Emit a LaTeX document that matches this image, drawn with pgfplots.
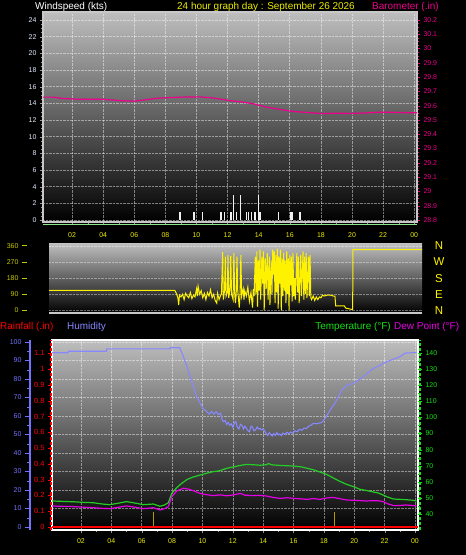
\documentclass[border=0pt]{standalone}
\usepackage{pgfplots}
\pgfplotsset{compat=1.18}
\usepackage{fontspec}
\setmainfont{Liberation Sans}
\definecolor{xyel}{RGB}{235,235,0}
\definecolor{dyel}{RGB}{200,200,0}
\definecolor{humb}{RGB}{115,115,255}
\definecolor{humline}{RGB}{135,135,255}
\definecolor{tgreen}{RGB}{20,225,20}
\definecolor{tline}{RGB}{35,205,35}
\definecolor{dmag}{RGB}{230,0,230}
\definecolor{rred}{RGB}{255,0,0}
\definecolor{wlab}{RGB}{225,235,255}
\definecolor{olivebar}{RGB}{175,155,0}
\definecolor{frm}{RGB}{200,200,200}
\definecolor{lgreen}{RGB}{140,230,140}
\definecolor{bgtop}{RGB}{190,190,190}
\pgfplotsset{
  every axis/.append style={
    scale only axis,
    tick label style={font=\fontsize{7}{8}\selectfont},
    /pgf/number format/assume math mode=true,
    tick align=outside,
  },
  frameax/.style={
    axis background/.style={shade, top color=bgtop, bottom color=black},
    grid=major,
    major grid style={white, opacity=0.45, densely dotted, line width=0.6bp},
    axis line style={frm, line width=1.2bp},
  },
}
\begin{document}
\begin{tikzpicture}
\fill[black] (0bp,0bp) rectangle (466bp,555bp);
\tikzset{hdr/.style={font=\fontsize{10}{12}\selectfont, inner sep=0pt}}
\node[hdr, text=white, anchor=west] at (35bp,548bp) {Windspeed (kts)};
\node[hdr, text=xyel] at (266bp,548bp) {24 hour graph day : September 26 2026};
\node[hdr, text=magenta, anchor=west] at (372bp,548bp) {Barometer (.in)};
\node[hdr, text=rred, anchor=west] at (0bp,228.5bp) {Rainfall (.in)};
\node[hdr, text=humline, anchor=west] at (67bp,228.5bp) {Humidity};
\node[hdr, text=tgreen, anchor=east] at (391bp,228.5bp) {Temperature (°F)};
\node[hdr, text=dmag, anchor=west] at (394bp,228.5bp) {Dew Point (°F)};

% ================= Panel 1: wind speed =================
\begin{scope}[shift={(43bp,333bp)}]
\begin{axis}[frameax, at={(0,0)}, anchor=south west, width=374bp, height=210bp,
  xmin=0.13, xmax=24.18, ymin=-0.24, ymax=24.96,
  xtick={2,4,...,24}, xticklabels={02,04,06,08,10,12,14,16,18,20,22,00},
  ytick={0,2,...,24}, minor y tick num=3, minor x tick num=1,
  xtick pos=bottom, ytick pos=left,
  x tick label style={text=xyel, yshift=-4bp},
  y tick label style={text=wlab},
  tick style={gray!80!white}, major tick length=3bp, minor tick length=2bp,
  after end axis/.code={\draw[lgreen, line width=1.5bp] ([yshift=-2.5bp]rel axis cs:0,0) -- ([yshift=-2.5bp]rel axis cs:1,0);},
]
\addplot[ycomb, white!88!gray, line width=1.3bp] coordinates {
(8.94,1)(9.84,1)(10.4,1)(11.58,1)(11.79,1)(12.22,1)(12.39,3)(12.58,1)(12.84,3)
(13.23,1)(13.33,1)(13.55,1)(13.76,1)(14.0,3)(14.08,1)(15.28,1)(16.08,1)(16.14,1)(16.66,1)};
\end{axis}
\begin{axis}[at={(0,0)}, anchor=south west, width=374bp, height=210bp,
  xmin=0.13, xmax=24.18, ymin=28.786, ymax=30.256,
  axis x line=none, axis y line*=right,
  y axis line style={frm, line width=1.2bp},
  ytick={28.8,28.9,29,29.1,29.2,29.3,29.4,29.5,29.6,29.7,29.8,29.9,30,30.1,30.2},
  minor y tick num=3, major tick length=3bp, minor tick length=2bp,
  ytick style={magenta}, y tick label style={text=magenta},
]
\addplot[magenta, line width=1.2bp] coordinates {
(0.13,29.66)(0.8,29.66)(1.4,29.65)(2.5,29.645)(4,29.645)(5.1,29.635)(6.0,29.632)
(6.6,29.64)(7.3,29.65)(7.9,29.655)(9,29.66)(10.2,29.662)(11,29.655)(11.6,29.645)
(12.2,29.635)(13,29.625)(13.6,29.615)(14.5,29.59)(15.3,29.575)(16.2,29.56)
(17.2,29.552)(18.1,29.545)(19,29.548)(20,29.546)(21,29.55)(21.8,29.555)(23,29.553)(24.18,29.55)};
\end{axis}
\end{scope}

% ================= Panel 2: wind direction =================
\begin{scope}[shift={(49bp,242bp)}]
\begin{axis}[at={(0,0)}, anchor=south west, width=373bp, height=69bp,
  xmin=0.51, xmax=24.5, ymin=-15, ymax=371,
  axis background/.style={shade, top color=bgtop, bottom color=black},
  axis x line*=bottom, axis y line*=left,
  x axis line style={frm, line width=1.5bp}, y axis line style={draw=none},
  xtick=\empty, ytick={0,90,180,270,360},
  ymajorgrids, major grid style={white, opacity=0.4, densely dotted, line width=0.6bp},
  major tick length=5bp,
  ytick style={dyel, line width=1bp, xshift=-22bp},
  y tick label style={text=dyel, xshift=-22bp},
]
\addplot[yellow, line width=1bp] coordinates {
(0.51,112)(8.6,112)(8.7,95)(8.8,70)(8.85,30)(8.9,85)(9.0,75)(9.1,90)(9.2,60)(9.3,95)
(9.4,80)(9.5,70)(9.6,100)(9.7,65)(9.8,85)(9.9,75)(10.0,120)(10.05,80)(10.1,135)(10.2,90)
(10.3,110)(10.4,70)(10.5,95)(10.6,60)(10.7,100)(10.8,80)(10.9,115)(11.0,70)(11.1,90)
(11.2,55)(11.3,40)(11.35,95)(11.45,60)(11.55,85)(11.6,90)(11.68,325)(11.72,60)(11.8,110)
(11.85,300)(11.9,80)(11.98,100)(12.02,310)(12.07,70)(12.15,120)(12.2,305)(12.25,90)
(12.35,60)(12.4,320)(12.45,100)(12.5,40)(12.55,90)(12.6,300)(12.65,110)(12.75,15)
(12.8,95)(12.85,310)(12.9,80)(13.0,120)(13.05,60)(13.1,110)(13.2,80)(13.3,130)(13.4,50)
(13.5,100)(13.6,15)(13.65,120)(13.7,80)(13.78,300)(13.82,90)(13.88,330)(13.92,20)
(13.98,280)(14.02,110)(14.08,340)(14.12,60)(14.2,300)(14.25,150)(14.3,330)(14.35,0)
(14.42,290)(14.48,120)(14.55,320)(14.6,60)(14.68,300)(14.72,30)(14.8,280)(14.85,90)
(14.9,340)(14.95,200)(15.0,330)(15.05,40)(15.1,310)(15.15,100)(15.2,345)(15.25,10)
(15.3,300)(15.35,150)(15.4,340)(15.45,0)(15.5,290)(15.55,80)(15.6,320)(15.65,110)
(15.7,280)(15.75,40)(15.8,330)(15.85,90)(15.9,290)(15.95,0)(16.0,310)(16.05,140)
(16.1,300)(16.15,50)(16.2,320)(16.25,80)(16.3,180)(16.35,60)(16.45,320)(16.5,100)
(16.55,300)(16.6,40)(16.7,310)(16.75,80)(16.85,330)(16.9,60)(16.95,300)(17.0,90)
(17.05,320)(17.1,70)(17.2,300)(17.25,80)(17.3,310)(17.35,70)(17.4,60)(17.5,80)(17.6,55)
(17.7,75)(17.8,60)(17.9,75)(18.0,70)(18.1,85)(18.2,80)(18.4,85)(18.6,85)(18.8,80)
(18.9,80)(18.95,25)(19.5,25)(19.6,12)(20.0,5)(20.04,5)(20.06,340)(24.5,340)};
\end{axis}
\begin{axis}[at={(0,0)}, anchor=south west, width=373bp, height=69bp,
  xmin=0.51, xmax=24.5, ymin=-15, ymax=371,
  axis x line=none, axis y line*=right, y axis line style={draw=none},
  ytick={0,90,180,270,360}, yticklabels={N,E,S,W,N}, major tick length=0pt,
  y tick label style={text=yellow, font=\fontsize{11.5}{12}\selectfont, anchor=center, xshift=17bp},
]
\end{axis}
\end{scope}

% ================= Panel 3 =================
\begin{scope}[shift={(52bp,25bp)}]
\begin{axis}[frameax, at={(0,0)}, anchor=south west, width=366bp, height=190bp,
  xmin=0.09, xmax=24.2, ymin=-1.62, ymax=101.08,
  xtick={2,4,...,24}, xticklabels={02,04,06,08,10,12,14,16,18,20,22,00},
  ytick={0,10,...,100}, yticklabels={}, minor x tick num=1,
  xtick pos=bottom, ytick pos=left,
  x tick label style={text=xyel, yshift=-2.5bp},
  tick style={gray!80!white}, major tick length=3bp, minor tick length=2bp,
  y axis line style={white}, ytick style={draw=none},
]
\end{axis}
\begin{axis}[at={(0,0)}, anchor=south west, width=366bp, height=190bp,
  xmin=0.09, xmax=24.2, ymin=-1.62, ymax=101.08,
  axis x line=none, axis y line*=left,
  y axis line style={humb, line width=2bp, xshift=-22bp},
  ytick={0,10,...,100}, minor y tick num=1, major tick length=5bp, minor tick length=3bp,
  ytick style={humb, xshift=-22bp}, y tick label style={text=humb, xshift=-22bp},
]
\addplot[humline, line width=1.1bp] coordinates {
(0.09,94.2)(1.15,94.2)(1.17,95)(3.68,95)(3.7,96.3)(7.85,96.3)(7.87,96.9)(8.5,96.9)
(8.7,93)(8.97,87)(9.2,81)(9.4,76)(9.6,71)(9.84,67)(10.05,64)(10.28,62.4)(10.45,61)
(10.6,62.5)(10.75,61)(10.9,62.3)(11.05,60.8)(11.2,61.5)(11.3,58)(11.37,57)(11.5,57.5)
(11.6,55.5)(11.7,56.5)(11.8,55)(11.9,55.8)(12.0,54)(12.1,56)(12.2,57)(12.3,54)(12.4,53)
(12.5,55.5)(12.6,55)(12.7,53)(12.8,54.5)(12.9,53.3)(13.0,52)(13.1,51.5)(13.2,54.5)
(13.3,54)(13.4,52)(13.5,52.5)(13.6,54)(13.7,53)(13.8,53.3)(13.9,52.5)(14.0,53)(14.1,52)
(14.2,50.5)(14.3,49.5)(14.4,51)(14.5,50)(14.6,49.2)(14.7,50.5)(14.8,49.5)(14.9,51)
(15.0,49.8)(15.1,50.3)(15.2,49.5)(15.3,50.8)(15.45,50)(15.55,51.2)(15.7,50.5)(15.8,51.3)
(15.95,50.8)(16.1,52)(16.25,51.5)(16.4,52.8)(16.55,52.3)(16.7,53.5)(16.85,53.2)(17.0,54.5)
(17.15,55)(17.3,56)(17.5,55.8)(17.7,56.2)(17.86,56.5)(18.1,59)(18.4,63)(18.8,68)
(19.18,74)(19.5,76.5)(19.94,77.6)(20.3,79.5)(20.7,82)(21.0,84)(21.26,85.7)(21.6,87)
(21.9,88.4)(22.3,89.8)(22.6,90.8)(23.0,92)(23.35,94)(23.8,94.2)(24.1,94.5)};
\end{axis}
\begin{axis}[at={(0,0)}, anchor=south west, width=366bp, height=190bp,
  xmin=0.09, xmax=24.2, ymin=-0.019, ymax=1.184,
  axis x line=none, axis y line*=left,
  y axis line style={rred, densely dashed, line width=1.5bp, xshift=-1.2bp},
  ytick={0,0.1,0.2,0.3,0.4,0.5,0.6,0.7,0.8,0.9,1,1.1}, major tick length=4bp,
  ytick style={rred}, y tick label style={text=rred, font=\fontsize{7.5}{8}\selectfont},
]
\addplot[ycomb, olivebar, line width=1.5bp] coordinates {(6.77,0.097)(18.7,0.097)};
\addplot[rred, line width=1.8bp] coordinates {(0.09,0)(24.2,0)};
\end{axis}
\begin{axis}[at={(0,0)}, anchor=south west, width=366bp, height=190bp,
  xmin=0.09, xmax=24.2, ymin=30.06, ymax=148.1,
  axis x line=none, axis y line*=right,
  y axis line style={tgreen, densely dashed, line width=1.5bp, xshift=2bp},
  ytick={40,50,...,140}, minor y tick num=1, major tick length=4bp, minor tick length=2bp,
  ytick style={tgreen}, y tick label style={text=tgreen},
]
\addplot[tline, line width=1.2bp] coordinates {
(0.09,48.1)(0.6,47.9)(1.5,47.6)(2.2,47.2)(2.8,47.0)(3.4,46.2)(3.9,45.8)(4.4,46.6)
(5.0,47.7)(5.5,46.9)(6.1,45.8)(6.77,46.2)(7.2,44.8)(7.5,45.6)(7.75,47)(7.98,52.8)
(8.3,56.3)(8.6,58.8)(9.0,61.5)(9.4,63)(9.84,64.2)(10.3,65.4)(10.7,66.3)(11.1,66.8)
(11.6,68.4)(12.0,69.2)(12.5,70.2)(12.9,70.8)(13.35,70.6)(13.8,70.3)(14.2,70.6)(14.35,71.3)
(14.6,70.5)(15.1,70.2)(15.5,70.0)(16.0,69.8)(16.5,69.3)(16.9,68.4)(17.3,67.5)(17.75,66.1)
(18.2,64.5)(18.6,62.5)(19.0,60.5)(19.5,58.4)(20.0,56.8)(20.4,55.3)(20.8,54.6)(21.26,53.7)
(21.6,53.0)(21.9,51.8)(22.2,50.5)(22.6,49.3)(23.0,49.1)(23.4,48.9)(23.8,48.6)(24.1,48.1)};
\addplot[dmag, line width=1.2bp] coordinates {
(0.09,45)(0.6,44.8)(1.5,44.6)(2.2,44.2)(2.8,43.9)(3.4,43.5)(3.9,43.3)(4.4,44.1)
(5.0,45)(5.5,44.3)(6.1,43.3)(6.77,43.9)(7.2,42.5)(7.5,43.3)(7.75,44.5)(7.98,50.7)
(8.3,54.3)(8.75,56)(9.1,55.4)(9.4,54.5)(9.84,52.8)(10.2,52.1)(10.7,51.4)(11.2,51.9)
(11.6,51.3)(12.0,51.8)(12.3,52.4)(12.5,52.8)(12.8,51.7)(13.35,51.4)(13.7,51.6)(14.2,51.2)
(14.6,50.4)(15.1,49.7)(15.6,50.1)(16.0,49.7)(16.5,49.4)(16.9,49.1)(17.3,49.6)(17.75,49.1)
(18.2,50.0)(18.6,50.3)(19.0,49.6)(19.5,48.7)(20.0,48.5)(20.4,48.3)(20.8,48.1)(21.26,48.3)
(21.6,48.2)(21.9,47.7)(22.2,46.4)(22.6,45.2)(23.0,45.3)(23.4,45.6)(23.8,45.3)(24.1,45)};
\end{axis}
\end{scope}
\pgfresetboundingbox
\useasboundingbox (0bp,0bp) rectangle (466bp,555bp);
\end{tikzpicture}
\end{document}
